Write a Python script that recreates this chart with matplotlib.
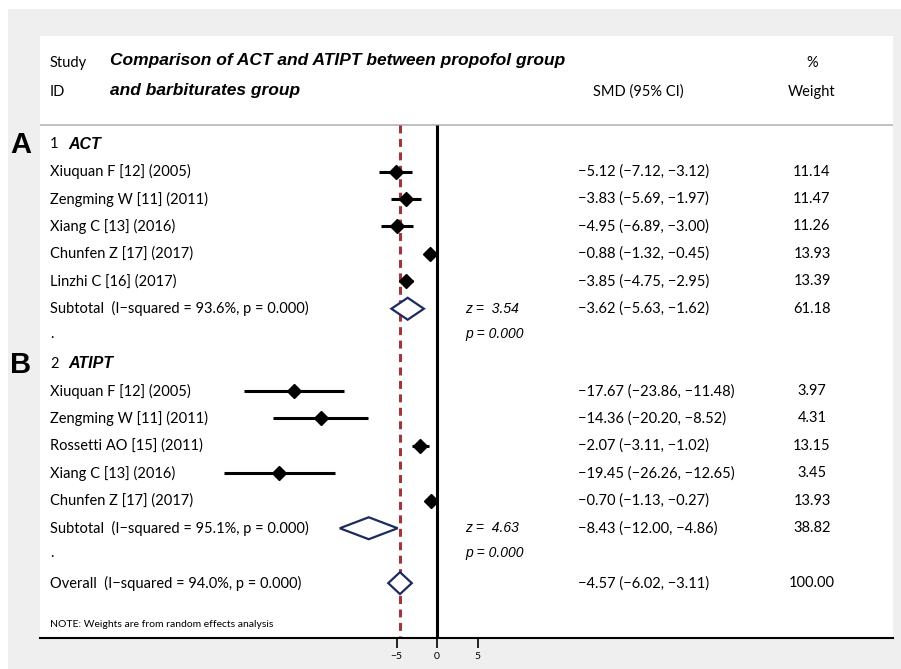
import matplotlib
matplotlib.use("Agg")
import matplotlib.pyplot as plt
from matplotlib.patches import Polygon, Rectangle
from matplotlib.transforms import blended_transform_factory

# ---- data ----
act_studies = ["Xiuquan F [12] (2005)", "Zengming W [11] (2011)", "Xiang C [13] (2016)",
               "Chunfen Z [17] (2017)", "Linzhi C [16] (2017)"]
act_smd = [-5.12, -3.83, -4.95, -0.88, -3.85]
act_lo = [-7.12, -5.69, -6.89, -1.32, -4.75]
act_hi = [-3.12, -1.97, -3.00, -0.45, -2.95]
act_w = [11.14, 11.47, 11.26, 13.93, 13.39]
act_sub = (-3.62, -5.63, -1.62, 61.18)
act_i2 = 93.6
act_z = 3.54

atipt_studies = ["Xiuquan F [12] (2005)", "Zengming W [11] (2011)", "Rossetti AO [15] (2011)",
                 "Xiang C [13] (2016)", "Chunfen Z [17] (2017)"]
atipt_smd = [-17.67, -14.36, -2.07, -19.45, -0.70]
atipt_lo = [-23.86, -20.20, -3.11, -26.26, -1.13]
atipt_hi = [-11.48, -8.52, -1.02, -12.65, -0.27]
atipt_w = [3.97, 4.31, 13.15, 3.45, 13.93]
atipt_sub = (-8.43, -12.00, -4.86, 38.82)
atipt_i2 = 95.1
atipt_z = 4.63

overall = (-4.57, -6.02, -3.11, 100.00)
overall_i2 = 94.0

x_ticks = [-5, 0, 5]

# ---- style ----
TXT = "Lato"
BOLDIT = "Liberation Sans"
FS = 10.5
RED = "#a0353a"
NAVY = "#1c2b5e"


def fmt(v):
    return f"{v:.2f}".replace("-", "\u2212")


def ci_text(e, lo, hi):
    return f"{fmt(e)} ({fmt(lo)}, {fmt(hi)})"


W, H = 901, 669
fig = plt.figure(figsize=(W / 100, H / 100), dpi=100)
fig.patch.set_facecolor("white")
fig.add_artist(Rectangle((8 / W, 0), 1, 1 - 9 / H, transform=fig.transFigure,
                         facecolor="#efefef", edgecolor="none", zorder=0))

left, right, top, bot = 40, 893, 36, 638
ax = fig.add_axes([left / W, 1 - bot / H, (right - left) / W, (bot - top) / H])
ax.set_facecolor("white")
ax.set_zorder(1)

# x scale: 0 at px 437, 8.1 px per unit
ax.set_xlim((left - 437) / 8.1, (right - 437) / 8.1)
ax.set_ylim(18.0, -3.94)
for s in ["left", "right", "top"]:
    ax.spines[s].set_visible(False)
ax.spines["bottom"].set_linewidth(1.5)
ax.set_yticks([])
ax.set_xticks(x_ticks)
ax.set_xticklabels([str(t).replace("-", "\u2212") for t in x_ticks], fontsize=7.5, family=TXT)
ax.tick_params(axis="x", length=7, width=1.2, pad=3)

tr = blended_transform_factory(ax.transAxes, ax.transData)


def fx(px):
    return (px - left) / (right - left)


X_LAB, X_CI, X_W, X_Z = fx(50), fx(578), fx(812), fx(465)

# header
ax.text(X_LAB, -2.95, "Study", transform=tr, fontsize=FS, family=TXT, va="center")
ax.text(X_LAB, -1.9, "ID", transform=tr, fontsize=FS, family=TXT, va="center")
ax.text(fx(110), -3.03, "Comparison of ACT and ATIPT between propofol group", transform=tr,
        fontsize=12.5, family=BOLDIT, weight="bold", style="italic", va="center")
ax.text(fx(110), -1.95, "and barbiturates group", transform=tr,
        fontsize=12.5, family=BOLDIT, weight="bold", style="italic", va="center")
ax.text(fx(638), -1.9, "SMD (95% CI)", transform=tr, fontsize=FS, family=TXT, va="center", ha="center")
ax.text(X_W, -2.95, "%", transform=tr, fontsize=FS, family=TXT, va="center", ha="center")
ax.text(X_W, -1.9, "Weight", transform=tr, fontsize=FS, family=TXT, va="center", ha="center")
ax.axhline(-0.69, color="#b5b5b5", lw=1.2)

# reference lines
ax.vlines(0, -0.69, 18.0, color="black", lw=2.2, zorder=2)
ax.vlines(overall[0], -0.69, 18.0, color=RED, lw=2.2, linestyles=(0, (2.6, 1.8)), zorder=2)


def pooled(y, est, lo, hi):
    h = 0.4
    ax.add_patch(Polygon([(lo, y), (est, y - h), (hi, y), (est, y + h)], closed=True,
                         facecolor="white", edgecolor=NAVY, lw=1.6, zorder=4))


def group(y0, num, name, studies, smd, lo, hi, w, sub, i2, z):
    ax.text(X_LAB, y0, f"{num}", transform=tr, fontsize=FS, family=TXT, va="center")
    ax.text(fx(68), y0, name, transform=tr, fontsize=11.5, family=BOLDIT,
            weight="bold", style="italic", va="center")
    for i, st in enumerate(studies):
        y = y0 + 1 + i
        ax.text(X_LAB, y, st, transform=tr, fontsize=FS, family=TXT, va="center")
        ax.hlines(y, lo[i], hi[i], color="black", lw=2.2, zorder=3)
        ax.plot(smd[i], y, marker="D", ms=7.3, color="black", zorder=5)
        ax.text(X_CI, y, ci_text(smd[i], lo[i], hi[i]), transform=tr, fontsize=FS, family=TXT, va="center")
        ax.text(X_W, y, f"{w[i]:.2f}", transform=tr, fontsize=FS, family=TXT, va="center", ha="center")
    ys = y0 + 1 + len(studies)
    ax.text(X_LAB, ys, f"Subtotal  (I\u2212squared = {i2:.1f}%, p = 0.000)", transform=tr,
            fontsize=FS, family=TXT, va="center")
    pooled(ys, sub[0], sub[1], sub[2])
    ax.text(X_CI, ys, ci_text(sub[0], sub[1], sub[2]), transform=tr, fontsize=FS, family=TXT, va="center")
    ax.text(X_W, ys, f"{sub[3]:.2f}", transform=tr, fontsize=FS, family=TXT, va="center", ha="center")
    ax.text(X_Z, ys, f"z =  {z:.2f}", transform=tr, fontsize=10, family=BOLDIT, style="italic", va="center")
    ax.text(X_Z, ys + 0.92, "p = 0.000", transform=tr, fontsize=10, family=BOLDIT, style="italic", va="center")
    ax.text(X_LAB, ys + 0.92, ".", transform=tr, fontsize=FS, family=TXT, va="center")


group(0, 1, "ACT", act_studies, act_smd, act_lo, act_hi, act_w, act_sub, act_i2, act_z)
group(8, 2, "ATIPT", atipt_studies, atipt_smd, atipt_lo, atipt_hi, atipt_w, atipt_sub, atipt_i2, atipt_z)

# overall
ax.text(X_LAB, 16, f"Overall  (I\u2212squared = {overall_i2:.1f}%, p = 0.000)", transform=tr,
        fontsize=FS, family=TXT, va="center")
pooled(16, overall[0], overall[1], overall[2])
ax.text(X_CI, 16, ci_text(*overall[:3]), transform=tr, fontsize=FS, family=TXT, va="center")
ax.text(X_W, 16, f"{overall[3]:.2f}", transform=tr, fontsize=FS, family=TXT, va="center", ha="center")
ax.text(X_LAB, 17.5, "NOTE: Weights are from random effects analysis", transform=tr,
        fontsize=7.5, family=TXT, va="center")

# panel letters
fig.text(21 / W, 1 - 145 / H, "A", fontsize=21, family=BOLDIT, weight="bold", ha="center", va="center")
fig.text(21 / W, 1 - 365 / H, "B", fontsize=21, family=BOLDIT, weight="bold", ha="center", va="center")

fig.savefig("out.png", dpi=100)
